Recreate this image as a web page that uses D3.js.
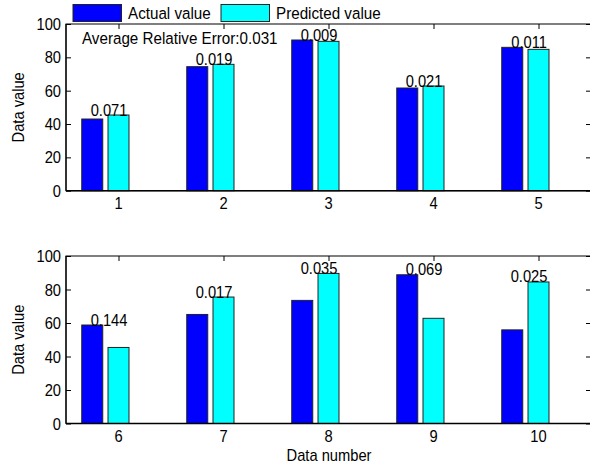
<!DOCTYPE html>
<html><head><meta charset="utf-8">
<script src="https://cdn.jsdelivr.net/npm/d3@7"></script>
<style>
html,body{margin:0;padding:0;background:#fff;}
text{font-family:"Liberation Sans",Arial,sans-serif;fill:#000;}
</style></head>
<body><svg id="c" width="590" height="467"></svg>
<script>
const categoriesTop = [1, 2, 3, 4, 5];
const categoriesBottom = [6, 7, 8, 9, 10];
const actualTop = [43.0, 74.4, 90.4, 61.6, 86.0];
const predictedTop = [45.4, 75.8, 89.6, 62.8, 84.8];
const errorsTop = ["0.071", "0.019", "0.009", "0.021", "0.011"];
const actualBottom = [58.8, 65.1, 73.5, 88.8, 55.9];
const predictedBottom = [45.4, 75.5, 89.6, 62.8, 84.5];
const errorsBottom = ["0.144", "0.017", "0.035", "0.069", "0.025"];
const yTicks = [0, 20, 40, 60, 80, 100];
const seriesNames = ["Actual value", "Predicted value"];
const averageError = "Average Relative Error:0.031";

const colors = ["#0000ff", "#00ffff"];
const SY = 1.13;
const svg = d3.select("#c");

function label(parent, x, y, str, size, anchor, rot) {
  return parent.append("text")
    .attr("transform", `translate(${x},${y})${rot ? " rotate(" + rot + ")" : ""} scale(1,${SY})`)
    .attr("text-anchor", anchor || "start")
    .style("font-size", size + "px").text(str);
}

function panel(cats, actual, predicted, errors, top, bottom) {
  const x = d3.scaleLinear().domain([0.5, cats.length + 0.5]).range([66, 591]);
  const y = d3.scaleLinear().domain([0, 100]).range([bottom, top]);
  const g = svg.append("g");
  g.append("rect").attr("x", 66).attr("y", top).attr("width", 525).attr("height", bottom - top)
    .attr("fill", "none").attr("stroke", "#000").attr("stroke-width", 1);
  const mk = (ax, tr) => {
    const s = g.append("g").attr("transform", tr).call(ax);
    s.select(".domain").remove();
    s.selectAll("text").remove();
    s.selectAll("line").attr("stroke", "#000");
  };
  mk(d3.axisLeft(y).tickValues(yTicks).tickSizeInner(-5).tickSizeOuter(0), "translate(66,0)");
  mk(d3.axisRight(y).tickValues(yTicks).tickSizeInner(-5).tickSizeOuter(0), "translate(591,0)");
  const xv = d3.range(1, cats.length + 1);
  mk(d3.axisBottom(x).tickValues(xv).tickSizeInner(-5).tickSizeOuter(0), `translate(0,${bottom})`);
  mk(d3.axisTop(x).tickValues(xv).tickSizeInner(-5).tickSizeOuter(0), `translate(0,${top})`);
  yTicks.forEach(t => label(g, 61, y(t) + 6, String(t), 14.7, "end"));
  xv.forEach((v, i) => label(g, x(v), bottom + 18.5, String(cats[i]), 14.7, "middle"));

  const bw = x(1.2) - x(1.0);
  const seriesData = [actual, predicted];
  const offsets = [-0.25, 0];
  seriesData.forEach((vals, s) => {
    g.selectAll(null).data(vals).enter().append("rect")
      .attr("x", (d, i) => x(i + 1 + offsets[s]) - bw / 2)
      .attr("y", d => y(d))
      .attr("width", bw)
      .attr("height", d => y(0) - y(d))
      .attr("fill", colors[s]).attr("stroke", "#222").attr("stroke-width", 1);
  });
  g.append("line").attr("x1", 66).attr("x2", 591).attr("y1", bottom).attr("y2", bottom)
    .attr("stroke", "#000").attr("stroke-width", 1.6);
  g.append("line").attr("x1", 66).attr("x2", 66).attr("y1", top).attr("y2", bottom)
    .attr("stroke", "#000").attr("stroke-width", 1.2);
  errors.forEach((e, i) => {
    label(g, x(i + 1 - 0.09), y(Math.max(actual[i], predicted[i])) + 0.5, e, 14.7, "middle");
  });
  label(g, 24, (top + bottom) / 2, "Data value", 14.7, "middle", -90);
  return {x, y, g};
}

panel(categoriesTop, actualTop, predictedTop, errorsTop, 24, 190.7);
panel(categoriesBottom, actualBottom, predictedBottom, errorsBottom, 256, 423.5);

label(svg, 329, 461, "Data number", 14.7, "middle");
label(svg, 82, 44, averageError, 15.2, "start");

const legX = [73, 221];
seriesNames.forEach((name, i) => {
  svg.append("rect").attr("x", legX[i]).attr("y", 4.5).attr("width", 48.5).attr("height", 17)
    .attr("fill", colors[i]).attr("stroke", "#222").attr("stroke-width", 1);
  label(svg, legX[i] + 55, 18.5, name, 15.2, "start");
});
</script></body></html>
